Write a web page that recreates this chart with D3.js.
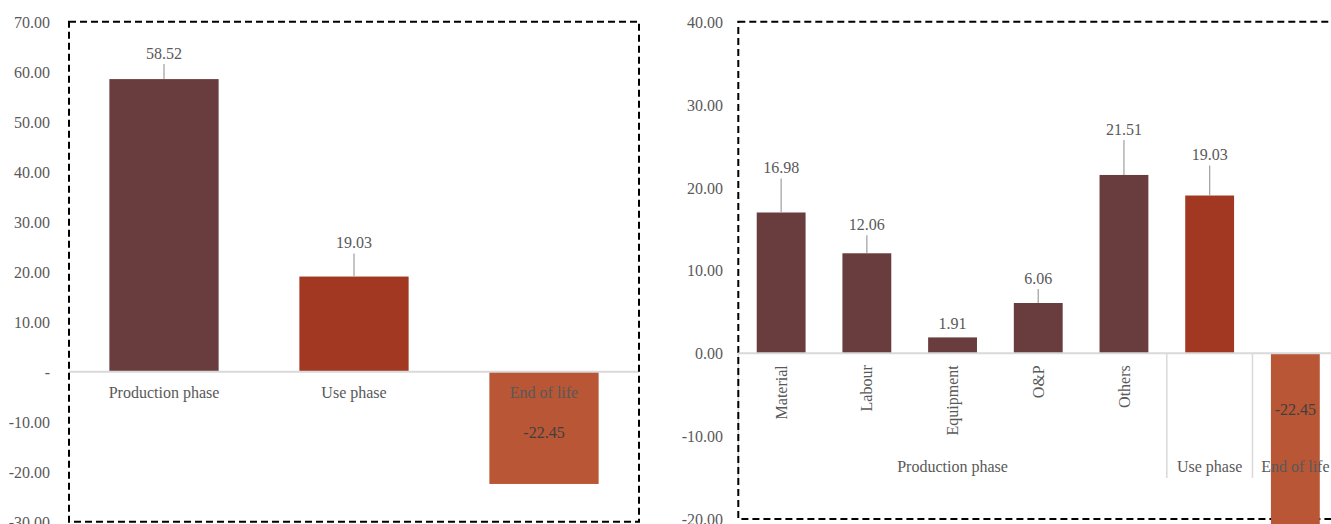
<!DOCTYPE html>
<html>
<head>
<meta charset="utf-8">
<script src="https://cdn.jsdelivr.net/npm/d3@7"></script>
<style>
  html, body { margin: 0; padding: 0; background: #fff; }
  svg { display: block; font-family: "Liberation Serif", "Times New Roman", serif; }
</style>
</head>
<body>
<svg id="chart" width="1331" height="524"></svg>
<script>
// ---------- DATA ----------
const leftCategories = ["Production phase", "Use phase", "End of life"];
const leftValues = [58.52, 19.03, -22.45];
const leftTicks = [70, 60, 50, 40, 30, 20, 10, 0, -10, -20, -30];

const rightCategories = ["Material", "Labour", "Equipment", "O&P", "Others", "Use phase", "End of life"];
const rightValues = [16.98, 12.06, 1.91, 6.06, 21.51, 19.03, -22.45];
const rightPhase = ["prod", "prod", "prod", "prod", "prod", "use", "eol"];
const rightTicks = [40, 30, 20, 10, 0, -10, -20];
const groupNames = ["Production phase", "Use phase", "End of life"];
const groupSpans = [5, 1, 1];

const leftPhase = ["prod", "use", "eol"];

// label offsets (pixels above bar top) – layout, not data
const leftLabelOffsets = [26, 34, null];
const rightLabelOffsets = [45, 29, 14, 25, 46, 41, null];

// ---------- STYLE ----------
const colors = { prod: "#693c3e", use: "#a33822", eol: "#b85635" };
const tickColor = "#595959";
const svg = d3.select("#chart");
const locale = d3.formatLocale({ decimal: ".", thousands: ",", grouping: [3], currency: ["", ""], minus: "-" });
const fmt2 = locale.format(".2f");

function frame(g, x0, y0, x1, y1) {
  g.append("rect")
    .attr("x", x0).attr("y", y0)
    .attr("width", x1 - x0).attr("height", y1 - y0)
    .attr("fill", "none").attr("stroke", "#000")
    .attr("stroke-width", 2).attr("stroke-dasharray", "7,4");
}

function yAxis(g, y, ticks, xPos, fmt) {
  const ax = d3.axisLeft(y).tickValues(ticks).tickSize(0).tickPadding(0).tickFormat(fmt);
  const a = g.append("g").attr("transform", `translate(${xPos},0)`).call(ax);
  a.select(".domain").remove();
  a.selectAll("text").attr("fill", tickColor).style("font-size", "16px")
    .style("font-family", "'Liberation Serif', serif").attr("dy", "0.35em");
}

function valueLabel(g, cx, topY, off, text) {
  const ty = topY - off;
  g.append("text").attr("x", cx).attr("y", ty).attr("dy", "0.35em")
    .attr("text-anchor", "middle").attr("fill", tickColor)
    .style("font-size", "16px").text(text);
  if (off > 22) {
    g.append("line").attr("x1", cx).attr("x2", cx)
      .attr("y1", ty + 11).attr("y2", topY)
      .attr("stroke", "#a6a6a6").attr("stroke-width", 1.3);
  }
}

// ---------- LEFT CHART ----------
{
  const L = { x0: 69, x1: 639, y0: 21.7, y1: 521.7 };
  const g = svg.append("g");
  const y = d3.scaleLinear().domain([-30, 70]).range([L.y1, L.y0]);
  const x = d3.scaleBand().domain(leftCategories).range([L.x0, L.x1])
    .paddingInner(0.425).paddingOuter(0.2125);

  yAxis(g, y, leftTicks, 50, d => d === 0 ? "-" : fmt2(d));

  // bars
  g.selectAll("rect.bar").data(leftValues).enter().append("rect")
    .attr("class", "bar")
    .attr("x", (d, i) => x(leftCategories[i]))
    .attr("width", x.bandwidth())
    .attr("y", d => y(Math.max(0, d)))
    .attr("height", d => Math.abs(y(d) - y(0)))
    .attr("fill", (d, i) => colors[leftPhase[i]]);

  // zero line
  g.append("line").attr("x1", L.x0).attr("x2", L.x1)
    .attr("y1", y(0)).attr("y2", y(0))
    .attr("stroke", "#d9d9d9").attr("stroke-width", 2);

  // category labels
  leftCategories.forEach((c, i) => {
    g.append("text").attr("x", x(c) + x.bandwidth() / 2).attr("y", y(0) + 21)
      .attr("dy", "0.35em").attr("text-anchor", "middle")
      .attr("fill", tickColor).style("font-size", "16px").text(c);
  });

  // value labels
  leftValues.forEach((v, i) => {
    const cx = x(leftCategories[i]) + x.bandwidth() / 2;
    if (v >= 0) {
      valueLabel(g, cx, y(v), leftLabelOffsets[i], fmt2(v));
    } else {
      g.append("text").attr("x", cx).attr("y", (y(0) + y(v)) / 2 + 5)
        .attr("dy", "0.35em").attr("text-anchor", "middle")
        .attr("fill", "#404040").style("font-size", "16px").text(fmt2(v));
    }
  });

  frame(g, L.x0, L.y0, L.x1, L.y1);
}

// ---------- RIGHT CHART ----------
{
  const R = { x0: 738.3, y0: 21.7, y1: 519 };
  const step = 85.7;
  const x1 = R.x0 + step * rightCategories.length;
  const g = svg.append("g");
  const y = d3.scaleLinear().domain([-20, 40]).range([R.y1, R.y0]);
  const x = d3.scaleBand().domain(rightCategories).range([R.x0, x1])
    .paddingInner(0.43).paddingOuter(0.215);

  yAxis(g, y, rightTicks, 723, fmt2);

  // group separators
  const bounds = [0];
  groupSpans.forEach(s => bounds.push(bounds[bounds.length - 1] + s));
  bounds.slice(0, -1).forEach(b => {
    const bx = R.x0 + b * x.step();
    g.append("line").attr("x1", bx).attr("x2", bx)
      .attr("y1", y(0)).attr("y2", 478)
      .attr("stroke", "#d9d9d9").attr("stroke-width", 1.5);
  });

  // frame first (bar overlaps bottom edge)
  frame(g, R.x0, R.y0, x1 + 20, R.y1);

  // bars
  g.selectAll("rect.bar").data(rightValues).enter().append("rect")
    .attr("class", "bar")
    .attr("x", (d, i) => x(rightCategories[i]))
    .attr("width", x.bandwidth())
    .attr("y", d => y(Math.max(0, d)))
    .attr("height", d => Math.abs(y(d) - y(0)))
    .attr("fill", (d, i) => colors[rightPhase[i]]);

  // zero line
  g.append("line").attr("x1", R.x0).attr("x2", x1)
    .attr("y1", y(0)).attr("y2", y(0))
    .attr("stroke", "#d9d9d9").attr("stroke-width", 2);

  // rotated category labels (production sub-categories)
  rightCategories.forEach((c, i) => {
    if (rightPhase[i] !== "prod") return;
    const cx = x(c) + x.bandwidth() / 2;
    g.append("text")
      .attr("transform", `translate(${cx},${y(0) + 12}) rotate(-90)`)
      .attr("dy", "0.35em").attr("text-anchor", "end")
      .attr("fill", tickColor).style("font-size", "16px").text(c);
  });

  // group labels
  groupNames.forEach((n, gi) => {
    const cx = R.x0 + (bounds[gi] + groupSpans[gi] / 2) * x.step();
    g.append("text").attr("x", cx).attr("y", 466.5).attr("dy", "0.35em")
      .attr("text-anchor", "middle").attr("fill", tickColor)
      .style("font-size", "16px").text(n);
  });

  // value labels
  rightValues.forEach((v, i) => {
    const cx = x(rightCategories[i]) + x.bandwidth() / 2;
    if (v >= 0) {
      valueLabel(g, cx, y(v), rightLabelOffsets[i], fmt2(v));
    } else {
      g.append("text").attr("x", cx).attr("y", y(0) + 56)
        .attr("dy", "0.35em").attr("text-anchor", "middle")
        .attr("fill", "#404040").style("font-size", "16px").text(fmt2(v));
    }
  });
}
</script>
</body>
</html>
